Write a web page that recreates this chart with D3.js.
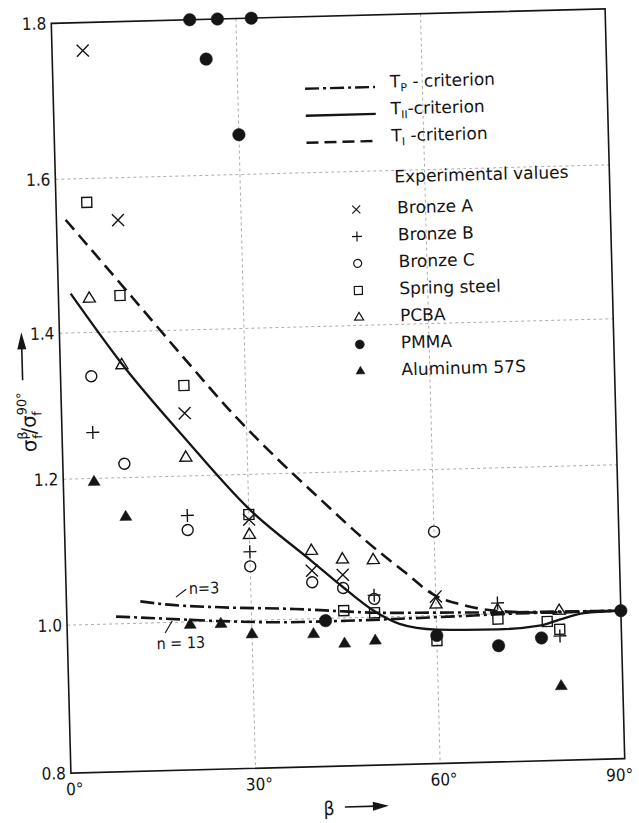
<!DOCTYPE html>
<html><head><meta charset="utf-8">
<script src="https://cdn.jsdelivr.net/npm/d3@7"></script>
<style>
body{margin:0;background:#fff}
svg text{font-family:"DejaVu Sans Condensed","Liberation Sans Narrow","DejaVu Sans",sans-serif;fill:#151515}
svg text.wide{font-family:"DejaVu Sans",sans-serif}
</style></head>
<body><svg id="c" width="639" height="823"></svg>
<script>
// ---- axis ticks ----
const yTicks=[0.8,1.0,1.2,1.4,1.6,1.8];
const yTickLabels=["0.8","1.0","1.2","1.4","1.6","1.8"];
const xTicks=[0,30,60,90];
const xTickLabels=["0°","30°","60°","90°"];
const gridX=[30,60];
const gridY=[1.0,1.2,1.4,1.6];

// ---- experimental values [beta (deg), sigma ratio] ----
const bronzeA=[[5,1.764],[10,1.545],[20,1.286],[30,1.138],[40,1.066],[45,1.059],[60,1.026]];
const bronzeB=[[5,1.263],[20,1.146],[30,1.094],[50,1.03],[70,1.015],[80,0.968]];
const bronzeC=[[5,1.34],[10,1.219],[20,1.126],[30,1.074],[40,1.05],[45,1.041],[50,1.025],[60,1.115]];
const springSteel=[[5,1.569],[10,1.447],[20,1.324],[30,1.145],[45,1.01],[50,1.006],[60,0.966],[70,0.993],[78,0.988],[80,0.977]];
const pcba=[[5,1.444],[10,1.354],[20,1.225],[30,1.117],[40,1.093],[45,1.08],[50,1.078],[60,1.015],[70,1.005],[80,1.002]];
const pmma=[[22.5,1.8],[27,1.8],[32.5,1.8],[25,1.749],[30,1.651],[42,0.997],[60,0.973],[70,0.957],[77,0.966],[90,1.0]];
const aluminum57S=[[5,1.195],[10,1.146],[20,0.996],[25,0.996],[30,0.981],[40,0.979],[45,0.965],[50,0.968],[80,0.9]];

// ---- criteria curves ----
const criterionTI=[[1.5,1.547],[12,1.444],[20,1.363],[28,1.282],[35,1.219],[41.6,1.164],[49,1.104],[55,1.061],[59.6,1.029],[65,1.012],[70,1.004],[80,1.0],[90,1.0]];
const criterionTII=[[2,1.451],[10,1.356],[20,1.251],[30,1.153],[40,1.079],[45,1.042],[50,1.008],[54,0.99],[60,0.981],[70,0.979],[77,0.983],[80,0.99],[84,0.998],[90,1.0]];
const criterionTPn3=[[12,1.03],[16,1.025],[25,1.019],[37,1.014],[45,1.009],[50,1.006],[60,1.004],[70,1.002],[80,1.001],[90,1.0]];
const criterionTPn13=[[8,1.01],[15,1.006],[25,1.0],[38,0.996],[45,0.996],[55,0.997],[62,0.998],[75,1.0],[90,1.0]];

const seriesNames=["Bronze A","Bronze B","Bronze C","Spring steel","PCBA","PMMA","Aluminum 57S"];
const seriesData=[bronzeA,bronzeB,bronzeC,springSteel,pcba,pmma,aluminum57S];
const seriesSymbols=["times","plus","circle","square","triangle","dot","trifill"];

// ---- custom symbol types (size = width in px) ----
const SYM={
  times:{draw(c,s){const r=s/2;c.moveTo(-r,-r);c.lineTo(r,r);c.moveTo(-r,r);c.lineTo(r,-r);}},
  plus:{draw(c,s){const r=s/2;c.moveTo(-r,0);c.lineTo(r,0);c.moveTo(0,-r);c.lineTo(0,r);}},
  circle:{draw(c,s){const r=s/2;c.moveTo(r,0);c.arc(0,0,r,0,2*Math.PI);c.closePath();}},
  dot:{draw(c,s){const r=s/2;c.moveTo(r,0);c.arc(0,0,r,0,2*Math.PI);c.closePath();}},
  square:{draw(c,s){const r=s/2;c.rect(-r,-r,s,s);}},
  triangle:{draw(c,s){const h=s*0.85;c.moveTo(0,-2*h/3);c.lineTo(s/2,h/3);c.lineTo(-s/2,h/3);c.closePath();}},
  trifill:{draw(c,s){const h=s*0.85;c.moveTo(0,-2*h/3);c.lineTo(s/2,h/3);c.lineTo(-s/2,h/3);c.closePath();}}
};
const filled={dot:true,trifill:true};
const plotSize={times:12,plus:13,circle:11,square:10,triangle:12,dot:12.5,trifill:12};
const legSize={times:8,plus:10,circle:8,square:8,triangle:9,dot:9,trifill:9};

const svg=d3.select("#c");
const x=d3.scaleLinear().domain([0,90]).range([61,615]);
const y=d3.scaleLinear().domain(yTicks).range([766,618,472,326,172,16]);
const ink="#151515";

const g=svg.append("g").attr("transform","rotate(-1.5 338 391)");

// grid
g.selectAll("line.gx").data(gridX).join("line").attr("class","gx")
 .attr("x1",d=>x(d)).attr("x2",d=>x(d)).attr("y1",y(1.8)).attr("y2",y(0.8))
 .attr("stroke","#999").attr("stroke-width",0.8).attr("stroke-dasharray","3,3");
g.selectAll("line.gy").data(gridY).join("line").attr("class","gy")
 .attr("y1",d=>y(d)).attr("y2",d=>y(d)).attr("x1",x(0)).attr("x2",x(90))
 .attr("stroke","#999").attr("stroke-width",0.8).attr("stroke-dasharray","3,3");

// frame
g.append("rect").attr("x",x(0)).attr("y",y(1.8)).attr("width",x(90)-x(0)).attr("height",y(0.8)-y(1.8))
 .attr("fill","none").attr("stroke",ink).attr("stroke-width",1.6);

// axes
const ya=g.append("g").attr("transform",`translate(${x(0)},0)`)
 .call(d3.axisLeft(y).tickValues(yTicks).tickFormat((d,i)=>yTickLabels[i]).tickSize(0).tickPadding(5));
ya.select(".domain").remove();
ya.attr("font-family",null).attr("font-size",null);
ya.selectAll("text").attr("font-size",17).attr("fill",ink);

const xa=g.append("g").attr("transform",`translate(0,${y(0.8)})`)
 .call(d3.axisBottom(x).tickValues(xTicks).tickFormat((d,i)=>xTickLabels[i]).tickSize(0).tickPadding(10));
xa.select(".domain").remove();
xa.attr("font-family",null).attr("font-size",null);
xa.selectAll("text").attr("font-size",17).attr("fill",ink).attr("dx",(d,i)=>i===xTicks.length-1?-6:3);

// curves
const line=d3.line().x(d=>x(d[0])).y(d=>y(d[1])).curve(d3.curveMonotoneX);
g.append("path").datum(criterionTPn3).attr("d",line).attr("fill","none").attr("stroke",ink)
 .attr("stroke-width",2.6).attr("stroke-dasharray","14,4,3,4");
g.append("path").datum(criterionTPn13).attr("d",line).attr("fill","none").attr("stroke",ink)
 .attr("stroke-width",2.6).attr("stroke-dasharray","14,4,3,4");
g.append("path").datum(criterionTII).attr("d",line).attr("fill","none").attr("stroke",ink)
 .attr("stroke-width",2.3);
g.append("path").datum(criterionTI).attr("d",line).attr("fill","none").attr("stroke",ink)
 .attr("stroke-width",2.6).attr("stroke-dasharray","13,7");

// markers
seriesData.forEach((data,i)=>{
  const t=seriesSymbols[i];
  g.append("g").selectAll("path").data(data).join("path")
   .attr("transform",d=>`translate(${x(d[0])},${y(d[1])})`)
   .attr("d",d3.symbol().type(SYM[t]).size(plotSize[t]))
   .attr("fill",filled[t]?ink:"none").attr("stroke",ink).attr("stroke-width",filled[t]?0.5:1.4);
});

// n labels
g.append("text").attr("x",x(22.4)).attr("y",y(1.046)).attr("dy","0.35em").attr("text-anchor","middle")
 .attr("font-size",16).text("n=3");
g.append("line").attr("x1",x(19.5)).attr("y1",y(1.045)).attr("x2",x(17.8)).attr("y2",y(1.0345))
 .attr("stroke",ink).attr("stroke-width",1.2);
g.append("text").attr("x",x(18.4)).attr("y",y(0.972)).attr("dy","0.35em").attr("text-anchor","middle")
 .attr("font-size",16).text("n = 13");
g.append("line").attr("x1",x(15.9)).attr("y1",y(0.986)).attr("x2",x(17.1)).attr("y2",y(1.002))
 .attr("stroke",ink).attr("stroke-width",1.2);

// legend
const leg=g.append("g");
const legLines=[
  {y:88,dash:"14,4,3,4",main:"T",sub:"P",rest:" - criterion"},
  {y:115,dash:null,main:"T",sub:"II",rest:"-criterion"},
  {y:142,dash:"12,6",main:"T",sub:"I",rest:" -criterion"}];
legLines.forEach(L=>{
  leg.append("line").attr("x1",313).attr("x2",383).attr("y1",L.y).attr("y2",L.y)
   .attr("stroke",ink).attr("stroke-width",2.4).attr("stroke-dasharray",L.dash);
  const t=leg.append("text").attr("class","wide").attr("x",398).attr("y",L.y+1).attr("font-size",17);
  t.append("tspan").text(L.main);
  t.append("tspan").attr("font-size",11).attr("dy",4).text(L.sub);
  t.append("tspan").attr("dy",-4).text(L.rest);
});
leg.append("text").attr("class","wide").attr("x",400).attr("y",184).attr("font-size",17).text("Experimental values");
seriesNames.forEach((n,i)=>{
  const t=seriesSymbols[i], by=215+27*i;
  leg.append("path").attr("transform",`translate(361,${by-5})`)
   .attr("d",d3.symbol().type(SYM[t]).size(legSize[t]))
   .attr("fill",filled[t]?ink:"none").attr("stroke",ink).attr("stroke-width",filled[t]?0.5:1.2);
  leg.append("text").attr("class","wide").attr("x",402).attr("y",by).attr("font-size",17).text(n);
});

// y axis title with arrow
const yt=g.append("text").attr("class","wide").attr("transform","translate(35,414) rotate(-90)").attr("text-anchor","middle").attr("font-size",20);
yt.append("tspan").text("σ");
yt.append("tspan").attr("font-size",13).attr("dy",-9).text("β");
yt.append("tspan").attr("font-size",13).attr("dx",-8).attr("dy",15).text("f");
yt.append("tspan").attr("dy",-6).text("/σ");
yt.append("tspan").attr("font-size",13).attr("dy",-9).text("90°");
yt.append("tspan").attr("font-size",13).attr("dx",-24).attr("dy",15).text("f");
g.append("line").attr("x1",23).attr("x2",23).attr("y1",372).attr("y2",338).attr("stroke",ink).attr("stroke-width",1.6);
g.append("path").attr("d","M23,324L27.5,341L18.5,341Z").attr("fill",ink);

// x axis title with arrow
g.append("text").attr("x",318).attr("y",808).attr("dy","0.35em").attr("text-anchor","middle").attr("font-size",19).text("β");
g.append("line").attr("x1",334).attr("x2",366).attr("y1",807).attr("y2",807).attr("stroke",ink).attr("stroke-width",1.6);
g.append("path").attr("d","M378,807L362,802.5L362,811.5Z").attr("fill",ink);
</script></body></html>
